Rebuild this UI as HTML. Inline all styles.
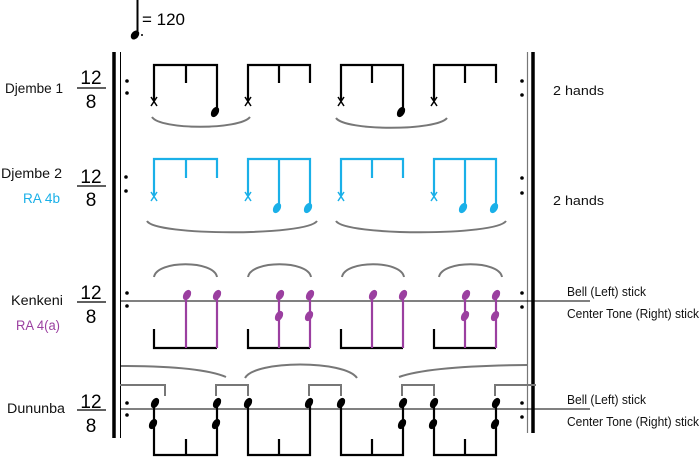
<!DOCTYPE html>
<html><head><style>
body{margin:0;background:#fff;}
svg{display:block;}
text{font-family:"Liberation Sans",sans-serif;}
</style></head><body>
<svg width="700" height="458" viewBox="0 0 700 458" xmlns="http://www.w3.org/2000/svg">
<defs>
<ellipse id="h" rx="3.6" ry="5.5" transform="rotate(30)"/>
</defs>
<!-- tempo -->
<line x1="137.5" y1="0" x2="137.5" y2="34" stroke="#000" stroke-width="2"/>
<ellipse cx="135" cy="35" rx="3.6" ry="5" transform="rotate(40 135 35)" fill="#000"/>
<circle cx="142" cy="35" r="1" fill="#000"/>
<text x="142" y="25" font-size="17">= 120</text>

<!-- labels -->
<g font-size="13.5" fill="#111">
<text x="5" y="93" textLength="58" lengthAdjust="spacingAndGlyphs">Djembe 1</text>
<text x="1" y="178" textLength="61" lengthAdjust="spacingAndGlyphs">Djembe 2</text>
<text x="23" y="203" fill="#1ab0e8" textLength="37" lengthAdjust="spacingAndGlyphs">RA 4b</text>
<text x="11" y="305" textLength="52" lengthAdjust="spacingAndGlyphs">Kenkeni</text>
<text x="16" y="330" fill="#9b3fa0" textLength="44" lengthAdjust="spacingAndGlyphs">RA 4(a)</text>
<text x="7" y="413" textLength="58" lengthAdjust="spacingAndGlyphs">Dununba</text>
</g>
<g font-size="19" fill="#000" text-anchor="middle">
<text x="91" y="84">12</text><line x1="77" y1="88" x2="106" y2="88" stroke="#000" stroke-width="1.2"/><text x="91" y="108">8</text>
<text x="91" y="183">12</text><line x1="77" y1="186" x2="106" y2="186" stroke="#000" stroke-width="1.2"/><text x="91" y="206">8</text>
<text x="91" y="299">12</text><line x1="77" y1="302" x2="106" y2="302" stroke="#000" stroke-width="1.2"/><text x="91" y="323">8</text>
<text x="91" y="408">12</text><line x1="77" y1="410" x2="106" y2="410" stroke="#000" stroke-width="1.2"/><text x="91" y="432">8</text>
</g>
<g font-size="13" fill="#111">
<text x="553" y="95" textLength="51" lengthAdjust="spacingAndGlyphs">2 hands</text>
<text x="553" y="205" textLength="51" lengthAdjust="spacingAndGlyphs">2 hands</text>
<text x="567" y="296" textLength="79" lengthAdjust="spacingAndGlyphs">Bell (Left) stick</text>
<text x="567" y="318" textLength="132" lengthAdjust="spacingAndGlyphs">Center Tone (Right) stick</text>
<text x="567" y="404" textLength="79" lengthAdjust="spacingAndGlyphs">Bell (Left) stick</text>
<text x="567" y="426" textLength="132" lengthAdjust="spacingAndGlyphs">Center Tone (Right) stick</text>
</g>

<!-- barlines -->
<line x1="114" y1="52" x2="114" y2="438" stroke="#000" stroke-width="3.5"/>
<line x1="120.5" y1="52" x2="120.5" y2="438" stroke="#000" stroke-width="1"/>
<line x1="527.5" y1="52" x2="527.5" y2="433" stroke="#777" stroke-width="1.2"/>
<line x1="533" y1="52" x2="533" y2="433" stroke="#000" stroke-width="3.5"/>
<!-- repeat dots -->
<g fill="#000">
<circle cx="127" cy="81" r="1.8"/><circle cx="127" cy="93" r="1.8"/>
<circle cx="522" cy="81" r="1.8"/><circle cx="522" cy="95" r="1.8"/>
<circle cx="126" cy="177" r="1.8"/><circle cx="126" cy="191" r="1.8"/>
<circle cx="522" cy="178" r="1.8"/><circle cx="522" cy="193" r="1.8"/>
<circle cx="127" cy="293" r="1.8"/><circle cx="127" cy="306" r="1.8"/>
<circle cx="522" cy="293" r="1.8"/><circle cx="522" cy="307" r="1.8"/>
<circle cx="127" cy="403" r="1.8"/><circle cx="127" cy="415" r="1.8"/>
<circle cx="522" cy="403" r="1.8"/><circle cx="522" cy="417" r="1.8"/>
</g>
<!-- staff lines -->
<line x1="121" y1="301" x2="590" y2="301" stroke="#000" stroke-width="1"/>
<line x1="121" y1="409" x2="590" y2="409" stroke="#000" stroke-width="1"/>

<!-- Djembe 1 -->
<g stroke="#000" stroke-width="2.2" fill="none">
<path d="M154 100V65H217V110M186 65V83"/>
<path d="M248 100V65H310V83M279 65V83"/>
<path d="M341 100V65H403V110M372 65V83"/>
<path d="M434 100V65H496V83M465 65V83"/>
</g>
<g stroke="#000" stroke-width="1.5">
<path d="M151 97l6 9M157 97l-6 9M245 97l6 9M251 97l-6 9M338 97l6 9M344 97l-6 9M431 97l6 9M437 97l-6 9"/>
</g>
<g fill="#000"><use href="#h" x="215" y="112"/><use href="#h" x="401" y="112"/></g>
<g stroke="#777" stroke-width="2" fill="none">
<path d="M152 117C160 130 240 130 250 117"/><path d="M336 118C345 131 437 131 447 118"/>
</g>

<!-- Djembe 2 -->
<g stroke="#1ab0e8" stroke-width="2.2" fill="none">
<path d="M154 195V159H217V178M186 159V178"/>
<path d="M248 195V159H310V205M279 159V205"/>
<path d="M341 195V159H403V178M372 159V178"/>
<path d="M434 195V159H496V205M465 159V205"/>
</g>
<g stroke="#1ab0e8" stroke-width="1.5">
<path d="M151 192l6 9M157 192l-6 9M245 192l6 9M251 192l-6 9M338 192l6 9M344 192l-6 9M431 192l6 9M437 192l-6 9"/>
</g>
<g fill="#1ab0e8"><use href="#h" x="277" y="208"/><use href="#h" x="308" y="208"/><use href="#h" x="463" y="208"/><use href="#h" x="494" y="208"/></g>
<g stroke="#777" stroke-width="2" fill="none">
<path d="M147 221C155 236 307 236 317 221"/><path d="M336 221C345 236 496 236 506 221"/>
</g>

<!-- Kenkeni -->
<g stroke="#777" stroke-width="2" fill="none">
<path d="M154 277C157 260 214 260 217 277"/><path d="M248 277C251 260 308 260 311 277"/><path d="M342 277C345 260 401 260 404 277"/><path d="M439 277C442 260 499 260 502 277"/>
</g>
<g stroke="#000" stroke-width="2.2" fill="none">
<path d="M154 329V348H217M248 329V348H310M341 329V348H403M434 329V348H496"/>
</g>
<g stroke="#9b3fa0" stroke-width="2.2" fill="none">
<path d="M186 296V348M217 296V348M279 296V348M310 296V348M372 296V348M403 296V348M465 296V348M496 296V348"/>
</g>
<g fill="#9b3fa0">
<use href="#h" x="187" y="295"/><use href="#h" x="217" y="295"/>
<use href="#h" x="280" y="295"/><use href="#h" x="310" y="295"/><use href="#h" x="279" y="316"/><use href="#h" x="309" y="316"/>
<use href="#h" x="373" y="295"/><use href="#h" x="403" y="295"/>
<use href="#h" x="466" y="295"/><use href="#h" x="496" y="295"/><use href="#h" x="465" y="316"/><use href="#h" x="495" y="316"/>
</g>

<!-- Dununba -->
<g stroke="#777" stroke-width="2" fill="none">
<path d="M121 366Q200 366 226 377"/><path d="M245 378C255 360 345 360 357 378"/><path d="M399 377Q430 366 527 365"/>
<path d="M120 385H165V396M216 396V385H248V396M309 396V385H341V396M402 396V385H434V396M495 396V385H536"/>
</g>
<g stroke="#000" stroke-width="2.2" fill="none">
<path d="M154 405V455H217V405M186 439V455"/>
<path d="M248 405V455H310V405M279 439V455"/>
<path d="M341 405V455H403V405M372 439V455"/>
<path d="M434 405V455H496V405M465 439V455"/>
</g>
<g fill="#000">
<use href="#h" x="155" y="403"/><use href="#h" x="153" y="424"/>
<use href="#h" x="217" y="403"/><use href="#h" x="216" y="424"/>
<use href="#h" x="248" y="403"/><use href="#h" x="309" y="403"/>
<use href="#h" x="341" y="403"/>
<use href="#h" x="403" y="403"/><use href="#h" x="402" y="424"/>
<use href="#h" x="434" y="403"/><use href="#h" x="433" y="424"/>
<use href="#h" x="496" y="403"/><use href="#h" x="495" y="424"/>
</g>
</svg>
</body></html>
